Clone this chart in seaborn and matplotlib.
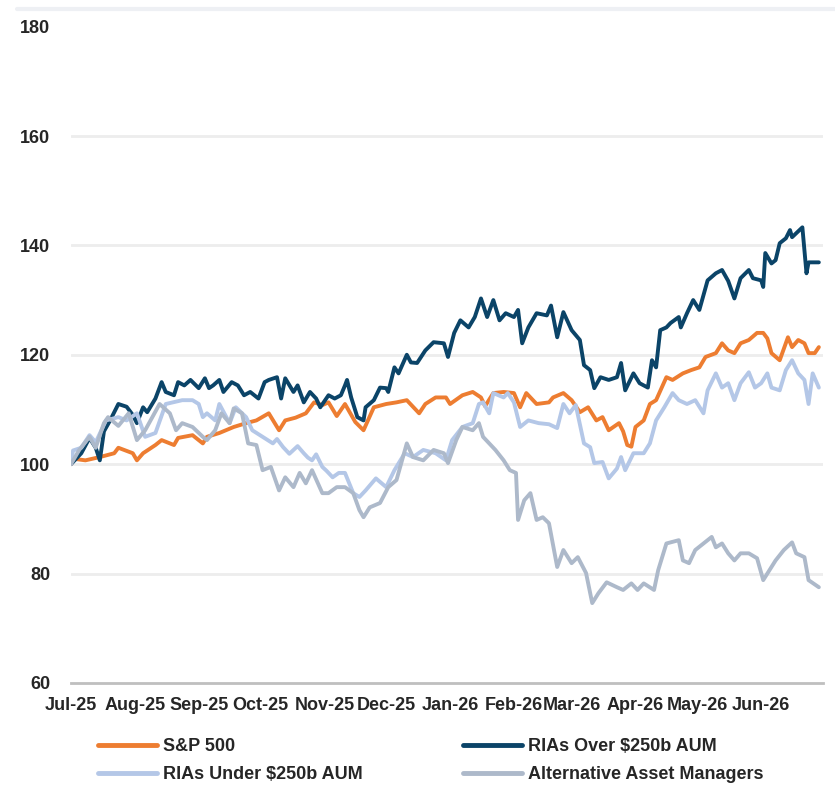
import pandas as pd
import matplotlib
matplotlib.use("Agg")
import matplotlib.pyplot as plt
from matplotlib.lines import Line2D
import seaborn as sns

# values, day offsets counted from 1 Jul 2025
start_date = "2025-07-01"

sp500_days = [0, 1, 7, 14, 21, 23, 30, 32, 35, 41, 44, 50, 52, 59, 64, 66, 72, 79, 85, 90,
              96, 101, 104, 109, 114, 118, 122, 125, 129, 133, 138, 142, 147, 153, 158, 163,
              169, 172, 177, 182, 184, 190, 195, 199, 201, 205, 210, 215, 218, 221, 226, 232,
              234, 239, 243, 247, 251, 255, 258, 261, 266, 268, 270, 272, 274, 278, 281, 284,
              289, 292, 297, 301, 305, 308, 313, 316, 319, 322, 325, 329, 333, 336, 338, 340,
              344, 348, 350, 353, 356, 358, 361, 363]
sp500_vals = [100, 101, 100.7, 101.3, 102, 103, 102, 100.7, 102, 103.5, 104.4, 103.5, 104.8,
              105.3, 103.8, 105, 105.7, 106.8, 107.5, 108, 109.3, 106.2, 108, 108.5, 109.3,
              111.3, 110.8, 111.3, 108.8, 111, 107.7, 106.2, 110.4, 111, 111.3, 111.7, 109.3,
              111, 112.2, 112.2, 111, 112.6, 113.2, 112.2, 110.6, 113, 113.2, 113, 110.4, 113,
              111, 111.3, 112.2, 113, 111.7, 109.5, 110.4, 108, 108.6, 106.2, 107.5, 106, 103.5,
              103.2, 106.8, 108, 111, 111.7, 115.9, 115.4, 116.6, 117.2, 117.7, 119.6, 120.3,
              122.1, 120.8, 120.3, 122.1, 122.7, 124, 124, 123, 120.3, 119, 123.2, 121.4, 122.7,
              122.1, 120.3, 120.3, 121.4]

over_days = [0, 5, 9, 12, 14, 16, 19, 23, 27, 30, 32, 35, 37, 41, 44, 46, 50, 52, 55, 58, 62,
             65, 67, 69, 72, 74, 78, 81, 84, 87, 91, 94, 96, 100, 102, 104, 108, 110, 113, 116,
             119, 121, 125, 128, 131, 133, 134, 136, 139, 142, 143, 147, 150, 153, 154, 157,
             159, 163, 165, 168, 172, 176, 181, 183, 186, 189, 193, 196, 199, 202, 205, 208,
             211, 215, 217, 219, 222, 226, 231, 233, 236, 239, 243, 247, 249, 252, 254, 257,
             261, 265, 267, 269, 273, 276, 280, 282, 284, 286, 289, 291, 295, 296, 299, 302,
             305, 309, 313, 316, 319, 322, 325, 329, 331, 335, 336, 337, 340, 342, 344, 347,
             349, 350, 355, 357, 358, 363]
over_vals = [100, 102, 104.8, 103, 100.7, 106, 108, 111, 110.5, 109, 107.5, 110.4, 109.5, 112,
             115, 113.2, 112.6, 115, 114.4, 115.4, 113.9, 115.7, 113.9, 114.4, 115.4, 113.2,
             115, 114.4, 112.6, 113.2, 112, 115, 115.4, 115.9, 112, 115.7, 113.2, 114.4, 111.3,
             113.2, 112, 110.4, 112.6, 112, 112.6, 114.4, 115.4, 112.2, 108.6, 108, 110.4,
             111.7, 114, 113.9, 113.2, 117.7, 116.6, 120, 118.6, 118.5, 120.8, 122.3, 122.1,
             119.6, 124, 126.3, 125, 126.9, 130.3, 126.9, 130, 126.3, 127.6, 126.9, 128.2,
             122.1, 125, 127.6, 127.2, 129, 123.2, 127.8, 124.5, 122.7, 118.1, 117.2, 113.9,
             115.9, 115.4, 115.9, 118.5, 113.5, 116.6, 114.8, 114, 119, 117.7, 124.5, 125,
             125.8, 126.9, 125, 127.6, 130, 128.2, 133.6, 134.9, 135.5, 133.5, 130.3, 134,
             135.5, 134, 133.6, 132.4, 138.6, 136.7, 137.3, 140.4, 141.3, 142.8, 141.5, 143.3,
             134.9, 136.9, 136.9]

under_days = [0, 1, 5, 9, 12, 17, 23, 27, 32, 36, 41, 46, 54, 59, 62, 64, 66, 70, 72, 77, 80,
              85, 88, 93, 98, 100, 103, 106, 108, 110, 113, 115, 117, 119, 122, 124, 127, 130,
              133, 137, 140, 143, 148, 153, 157, 162, 166, 171, 177, 182, 185, 190, 195, 198,
              200, 203, 205, 210, 212, 215, 218, 222, 227, 232, 236, 239, 242, 245, 249, 252,
              254, 258, 261, 265, 267, 269, 273, 278, 281, 284, 288, 292, 295, 299, 303, 307,
              309, 313, 316, 319, 322, 325, 329, 332, 335, 338, 340, 344, 347, 350, 353, 356,
              358, 360, 363]
under_vals = [100, 102.5, 103, 105.3, 104, 108, 108.6, 108, 109.3, 105, 105.7, 111, 111.7,
              111.7, 111, 108.6, 109.3, 108, 111, 107.5, 110.4, 108.6, 106.2, 105, 103.8, 104.6,
              103.1, 101.9, 102.6, 103.3, 102, 101.2, 100.7, 101.8, 99.5, 98.8, 97.6, 98.4,
              98.4, 94.7, 94, 95.2, 97.4, 95.8, 98.9, 102, 101.3, 102.6, 102, 100.7, 104.4,
              106.8, 107.5, 111, 111.3, 109.3, 113, 112.2, 113, 111.3, 106.8, 108, 107.5, 107.3,
              106.6, 111, 109.3, 110.8, 103.8, 103.1, 100.2, 100.4, 97.4, 99.2, 101.3, 98.9,
              102, 102, 103.8, 108, 110.4, 113, 111.7, 111, 111.7, 109.3, 113.5, 116.6, 114,
              114.8, 111.7, 114.8, 116.8, 114, 114.8, 116.6, 114, 113.5, 117.2, 119, 116.6,
              115.4, 111, 116.6, 114]

alt_days = [0, 4, 9, 12, 16, 18, 23, 28, 32, 36, 43, 48, 51, 54, 59, 64, 66, 70, 73, 77, 79,
            83, 86, 90, 93, 97, 101, 104, 108, 111, 114, 117, 122, 125, 129, 133, 137, 140, 142,
            145, 150, 154, 158, 163, 166, 171, 176, 181, 183, 187, 190, 195, 198, 200, 203, 206,
            210, 213, 216, 217, 220, 223, 226, 229, 232, 236, 239, 243, 246, 250, 253, 256, 260,
            265, 268, 272, 275, 278, 283, 285, 289, 295, 297, 300, 303, 307, 311, 313, 316, 319,
            322, 325, 329, 333, 336, 339, 342, 346, 350, 352, 356, 358, 363]
alt_vals = [100, 102.6, 105, 103, 107.5, 108.6, 107, 109.3, 104.4, 106.2, 111, 109.3, 106.2,
            107.5, 106.8, 105, 104.4, 106.2, 109.3, 107.5, 110.2, 109.3, 103.8, 103.5, 98.9,
            99.5, 95.2, 97.6, 95.8, 98.4, 96.5, 98.9, 94.7, 94.7, 95.8, 95.8, 94.7, 91.6, 90.3,
            92.1, 92.9, 95.8, 97.1, 103.8, 101.3, 100.7, 102.6, 102, 100.2, 104.4, 106.8, 106.2,
            107.5, 105, 103.8, 102.6, 100.7, 98.9, 98.4, 89.8, 93.4, 94.7, 89.8, 90.3, 89.2,
            81.2, 84.3, 81.9, 83, 80.1, 74.6, 76.4, 78.4, 77.5, 77, 78.2, 77, 78.2, 77, 80.6,
            85.5, 86.1, 82.4, 81.9, 84.3, 85.5, 86.7, 84.8, 85.5, 83.7, 82.4, 83.7, 83.7, 82.8,
            78.8, 80.6, 82.4, 84.3, 85.7, 83.7, 83, 78.8, 77.5]

series_names = ["S&P 500", "RIAs Over $250b AUM", "RIAs Under $250b AUM", "Alternative Asset Managers"]
series_colors = ["#ED7D31", "#0B4468", "#B4C7E7", "#ADB9CA"]
y_ticks = [60, 80, 100, 120, 140, 160, 180]

frames = []
for name, days, vals in zip(series_names,
                            [sp500_days, over_days, under_days, alt_days],
                            [sp500_vals, over_vals, under_vals, alt_vals]):
    frames.append(pd.DataFrame({
        "date": pd.Timestamp(start_date) + pd.to_timedelta(days, unit="D"),
        "value": vals,
        "series": name,
    }))
df = pd.concat(frames, ignore_index=True)

sns.set_style("white")
plt.rcParams["font.family"] = ["Liberation Sans", "DejaVu Sans"]
plt.rcParams["font.weight"] = "bold"

fig = plt.figure(figsize=(8.35, 7.85), dpi=100)
ax = fig.add_axes([0.085, 0.13, 0.9006, 0.8361])

sns.lineplot(data=df, x="date", y="value", hue="series", hue_order=series_names,
             palette=dict(zip(series_names, series_colors)), linewidth=2.8, ax=ax)

ax.set_ylim(y_ticks[0], y_ticks[-1])
ax.set_yticks(y_ticks)
ax.set_yticklabels([str(t) for t in y_ticks], fontsize=13, fontweight="bold")
ax.tick_params(axis="y", length=0, pad=15)

month_ticks = pd.date_range(start_date, periods=13, freq="MS")
ax.set_xlim(month_ticks[0], month_ticks[-1])
ax.set_xticks(month_ticks)
ax.set_xticklabels([d.strftime("%b-%y") for d in month_ticks[:-1]] + [""],
                   fontsize=13, fontweight="bold")
ax.tick_params(axis="x", length=7, width=1.5, color="#BFBFBF", pad=3, direction="out")
ax.set_xlabel("")
ax.set_ylabel("")

ax.grid(axis="y", color="#EDEDED", linewidth=2)
ax.get_ygridlines()[-1].set_visible(False)
ax.get_ygridlines()[0].set_visible(False)
for side in ["top", "right", "left"]:
    ax.spines[side].set_visible(False)
ax.spines["bottom"].set_color("#BFBFBF")
ax.spines["bottom"].set_linewidth(2)

handles, labels = ax.get_legend_handles_labels()
ax.get_legend().remove()
order = [0, 2, 1, 3]
leg = fig.legend([handles[i] for i in order], [labels[i] for i in order],
                 ncol=2, loc="upper left", bbox_to_anchor=(0.117, 0.06),
                 frameon=False, fontsize=13, handlelength=3.3, handletextpad=0.3,
                 columnspacing=5.55, labelspacing=0.62, borderaxespad=0, borderpad=0)
for line in leg.get_lines():
    line.set_linewidth(3.5)
for text in leg.get_texts():
    text.set_fontweight("bold")

# thin rule at the top of the chart
fig.add_artist(Line2D([0.02, 1.0], [0.988, 0.988], color="#EEF0F4", linewidth=3))

fig.savefig("out.png", dpi=100)
